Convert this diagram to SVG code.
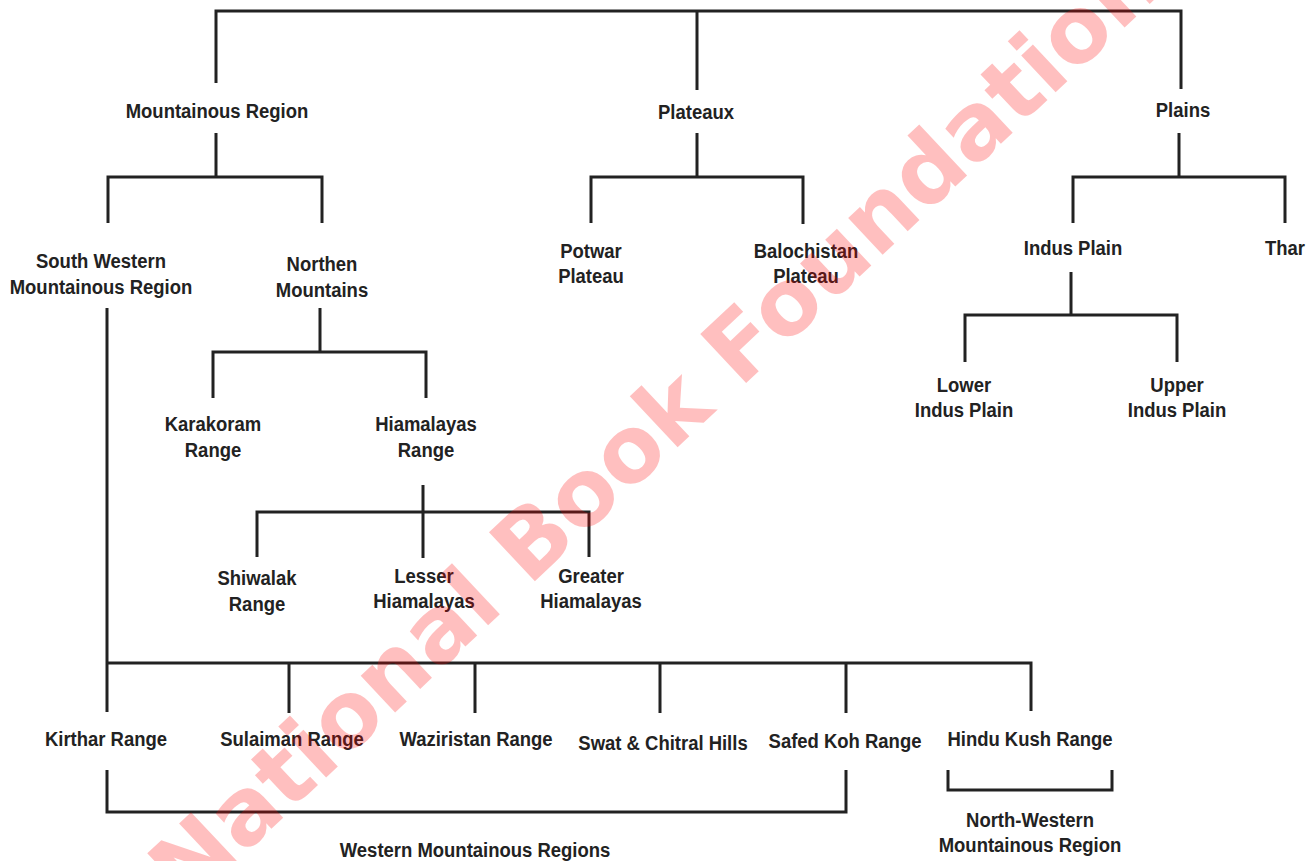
<svg xmlns="http://www.w3.org/2000/svg" width="1315" height="861" viewBox="0 0 1315 861">
<style>
.bg{fill:#ffffff}
.c path{fill:none;stroke:#222222;stroke-width:3;stroke-linecap:butt;stroke-linejoin:miter}
.n text{font-family:"Liberation Sans",Arial,sans-serif;font-weight:bold;font-size:21px;fill:#222222;text-anchor:middle}
.wm{font-family:"DejaVu Sans",sans-serif;font-weight:bold;font-size:92px;fill:#ff0000;fill-opacity:0.25}
</style>
<rect class="bg" x="0" y="0" width="1315" height="861"/>
<g id="connectors" class="c">
<path d="M216,83 V11 H1181 V89 M697,11 V90"/>
<path d="M216,133 V177 M108,223 V177 H322 V223"/>
<path d="M697,133 V177 M591,223 V177 H803 V224"/>
<path d="M1179,133 V177 M1073,223 V177 H1285 V223"/>
<path d="M1071,272 V315 M965,362 V315 H1177 V362"/>
<path d="M320,308 V352 M213,398 V352 H426 V398"/>
<path d="M423,485 V558 M257,557 V512 H589 V557"/>
<path d="M107,308 V712 M107,663 H1031 V711 M289,663 V713 M475,663 V713 M660,663 V713 M846,663 V713"/>
<path d="M107,770 V812 H846 V770"/>
<path d="M948,770 V790 H1112 V770"/>
</g>
<g class="n">
<g id="mountainous-region"><text transform="translate(217,118) scale(0.88,1)">Mountainous Region</text></g>
<g id="plateaux"><text transform="translate(696,119) scale(0.88,1)">Plateaux</text></g>
<g id="plains"><text transform="translate(1183,117) scale(0.88,1)">Plains</text></g>
<g id="south-western"><text transform="translate(101,268) scale(0.88,1)"><tspan x="0" y="0">South Western</tspan><tspan x="0" y="26">Mountainous Region</tspan></text></g>
<g id="northen-mountains"><text transform="translate(322,271) scale(0.88,1)"><tspan x="0" y="0">Northen</tspan><tspan x="0" y="26">Mountains</tspan></text></g>
<g id="potwar"><text transform="translate(591,258) scale(0.88,1)"><tspan x="0" y="0">Potwar</tspan><tspan x="0" y="25">Plateau</tspan></text></g>
<g id="balochistan"><text transform="translate(806,258) scale(0.88,1)"><tspan x="0" y="0">Balochistan</tspan><tspan x="0" y="25">Plateau</tspan></text></g>
<g id="indus-plain"><text transform="translate(1073,255) scale(0.88,1)">Indus Plain</text></g>
<g id="thar"><text transform="translate(1285,255) scale(0.88,1)">Thar</text></g>
<g id="lower-indus"><text transform="translate(964,392) scale(0.88,1)"><tspan x="0" y="0">Lower</tspan><tspan x="0" y="25">Indus Plain</tspan></text></g>
<g id="upper-indus"><text transform="translate(1177,392) scale(0.88,1)"><tspan x="0" y="0">Upper</tspan><tspan x="0" y="25">Indus Plain</tspan></text></g>
<g id="karakoram"><text transform="translate(213,431) scale(0.88,1)"><tspan x="0" y="0">Karakoram</tspan><tspan x="0" y="26">Range</tspan></text></g>
<g id="hiamalayas-range"><text transform="translate(426,431) scale(0.88,1)"><tspan x="0" y="0">Hiamalayas</tspan><tspan x="0" y="26">Range</tspan></text></g>
<g id="shiwalak"><text transform="translate(257,585) scale(0.88,1)"><tspan x="0" y="0">Shiwalak</tspan><tspan x="0" y="26">Range</tspan></text></g>
<g id="lesser"><text transform="translate(424,583) scale(0.88,1)"><tspan x="0" y="0">Lesser</tspan><tspan x="0" y="25">Hiamalayas</tspan></text></g>
<g id="greater"><text transform="translate(591,583) scale(0.88,1)"><tspan x="0" y="0">Greater</tspan><tspan x="0" y="25">Hiamalayas</tspan></text></g>
<g id="kirthar"><text transform="translate(106,746) scale(0.88,1)">Kirthar Range</text></g>
<g id="sulaiman"><text transform="translate(292,746) scale(0.88,1)">Sulaiman Range</text></g>
<g id="waziristan"><text transform="translate(476,746) scale(0.88,1)">Waziristan Range</text></g>
<g id="swat-chitral"><text transform="translate(663,750) scale(0.88,1)">Swat &amp; Chitral Hills</text></g>
<g id="safed-koh"><text transform="translate(845,748) scale(0.88,1)">Safed Koh Range</text></g>
<g id="hindu-kush"><text transform="translate(1030,746) scale(0.88,1)">Hindu Kush Range</text></g>
<g id="western-regions"><text transform="translate(475,857) scale(0.88,1)">Western Mountainous Regions</text></g>
<g id="north-western"><text transform="translate(1030,827) scale(0.88,1)"><tspan x="0" y="0">North-Western</tspan><tspan x="0" y="25">Mountainous Region</tspan></text></g>
</g>
<text class="wm" transform="translate(187,908) rotate(-43.2)">National Book Foundation</text>
</svg>
